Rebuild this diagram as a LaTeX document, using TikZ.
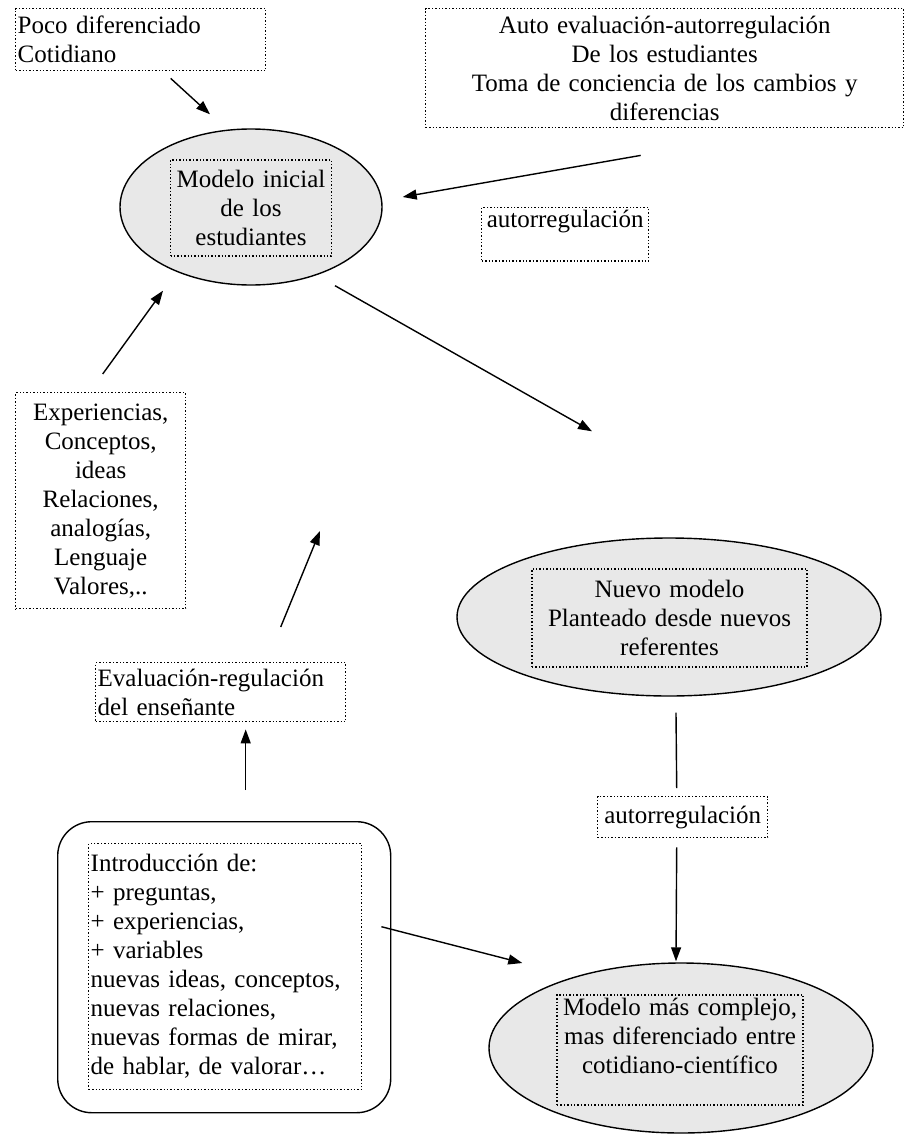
\documentclass[tikz,border=0pt]{standalone}
\usepackage{fontspec}
\setmainfont{Liberation Serif}
\usepackage{xcolor}
\definecolor{gris}{HTML}{E8E8E8}
\usetikzlibrary{
  positioning,
  arrows.meta,
  calc,
  shapes.geometric
}

\begin{document}
\begin{tikzpicture}[
  x=0.5pt, y=-0.5pt,
  caja/.style={draw, densely dotted, line width=0.7pt, inner sep=1pt, font=\fontsize{12.5}{14.5}\selectfont},
  modelo/.style={draw, ellipse, line width=0.7pt, fill=gris, inner sep=0pt},
  marco/.style={draw, rounded corners=17pt, line width=0.7pt, inner sep=0pt},
  flecha/.style={-{Triangle[length=7pt,width=5pt]}, line width=0.7pt},
]
\useasboundingbox (0,0) rectangle (908,1135);

% Cajas de arriba
\node[caja, anchor=north west, text width=123pt, minimum height=31pt, align=left] (poco) at (15,8) {Poco diferenciado\\Cotidiano};
\node[caja, anchor=north west, text width=237pt, minimum height=59.5pt, align=center] (auto) at (425,8) {Auto evaluación-autorregulación\\De los estudiantes\\Toma de conciencia de los cambios y\\diferencias};

% Modelo inicial
\node[modelo, minimum width=131pt, minimum height=78pt] (inicial) at (251,207) {};
\node[caja, text width=78.5pt, minimum height=48pt, align=center] (inicialtxt) at (251,208) {Modelo inicial\\de los\\estudiantes};
\node[caja, anchor=north west, minimum width=83.5pt, text depth=16pt] (autorreg1) at (481,207) {autorregulación};

% Lado izquierdo
\node[caja, anchor=north west, text width=83pt, minimum height=108pt, align=center] (experiencias) at (15,392) {Experiencias,\\Conceptos,\\ideas\\Relaciones,\\analogías,\\Lenguaje\\Valores,..};
\node[caja, anchor=north west, text width=123pt, minimum height=29.5pt, align=left] (evaluacion) at (95,662) {Evaluación-regulación\\del enseñante};
\node[marco, anchor=north west, minimum width=166.5pt, minimum height=145.5pt] (intro) at (57,821) {};
\node[caja, anchor=north west, text width=134.5pt, minimum height=123pt, align=left] (introtxt) at (88,843) {Introducción de:\\+ preguntas,\\+ experiencias,\\+ variables\\nuevas ideas, conceptos,\\nuevas relaciones,\\nuevas formas de mirar,\\de hablar, de valorar…};

% Lado derecho
\node[modelo, minimum width=212pt, minimum height=79pt] (nuevo) at (669,617) {};
\node[caja, text width=135.5pt, minimum height=49pt, align=center] (nuevotxt) at (669.5,618) {Nuevo modelo\\Planteado desde nuevos\\referentes};
\node[caja, anchor=north west, minimum width=85pt, minimum height=20.5pt] (autorreg2) at (597,796) {autorregulación};
\node[modelo, minimum width=192pt, minimum height=85pt] (complejo) at (681,1048) {};
\node[caja, text width=121pt, minimum height=55pt, align=center] (complejotxt) at (680,1050) {Modelo más complejo,\\mas diferenciado entre\\cotidiano-científico\\\mbox{}};

% Flechas
\coordinate (punta) at (320,531);
\draw[flecha] ($(poco.south)+(30,7)$) -- ($(inicial.north)+(-41,-14)$);
\draw[flecha] ($(auto.south)+(-24,27)$) -- ($(inicial.east)+(20,-10)$);
\draw[flecha] ($(inicial.south)+(84,0)$) -- ($(nuevo.north)+(-77,-106)$);
\draw[flecha] ($(experiencias.north)+(2,-18)$) -- ($(inicial.south)+(-88,5)$);
\draw[flecha] ($(evaluacion.north)+(60,-35)$) -- (punta);
\draw[flecha] ($(intro.north)+(21.5,-31)$) -- ($(evaluacion.south)+(25,7)$);
\draw[flecha] ($(intro.east)+(-10,-40.5)$) -- ($(complejo.west)+(34,-85)$);
\draw[line width=0.7pt] ($(nuevo.south)+(7,16)$) -- ($(autorreg2.north)+(-6,-8)$);
\draw[flecha] ($(autorreg2.south)+(-6,9)$) -- ($(complejo.north)+(-5,-1)$);

\end{tikzpicture}
\end{document}
